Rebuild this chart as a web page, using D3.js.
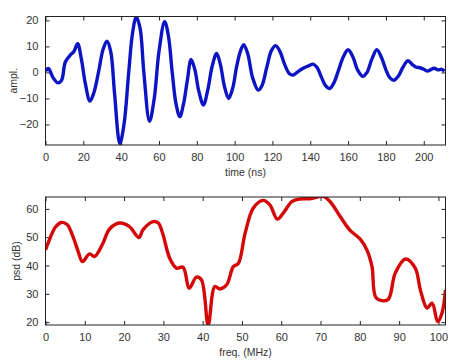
<!DOCTYPE html>
<html>
<head>
<meta charset="utf-8">
<script src="https://cdn.jsdelivr.net/npm/d3@7"></script>
<style>
  body { margin: 0; background: #fff; }
  svg { display: block; font-family: "Liberation Sans", Arial, sans-serif; }
  .tick text { fill: #333; font-size: 11px; }
  .lbl { fill: #333; font-size: 10.5px; }
</style>
</head>
<body>
<svg id="chart" width="459" height="362"></svg>
<script>
// time signal (ns, amplitude)
var timeNs = [0, 1.5, 4, 6.5, 8.5, 10.5, 13.5, 15, 17, 19, 21, 23.5, 25.5, 28, 30.5, 32.5, 34.5, 36.5, 39.3, 41.5,
    44, 46, 48, 50, 52, 55, 57.5, 60, 63, 65, 67, 69, 71, 73, 75, 77, 79, 81, 83.5, 86,
    88, 90.5, 92.5, 94.5, 96.8, 99, 101, 103, 104.8, 107, 109.5, 112.5, 114.5, 117, 119.5, 121.7, 124, 126.5, 129, 131,
    133, 136, 139, 141.5, 143.5, 146, 148, 150.2, 152.5, 155, 157.5, 160, 162.5, 165, 167.8, 170, 172.5, 175.2, 177.5, 180,
    182, 184.2, 186.5, 189, 191.6, 194, 196, 198, 200, 202, 203.5, 205.5, 207.5, 209.5, 211];
var ampl = [0.5, 1.5, -2, -4, -3, 4, 7, 8, 11, 5, -4, -11, -8, 0, 9, 12, 8, -8, -27.3, -20,
    0, 15, 21.3, 17, 0, -18.8, -10, 8, 19.5, 14, 0, -12, -17, -12, -3, 5, 1, -7, -12.5, -6,
    2, 7.3, 3, -5, -10, -6, 2, 8, 10.7, 7, -2, -6.8, -5, 2, 8.5, 10.3, 8, 3, -0.5, -1,
    0, 1.5, 2.5, 3.2, 2, -2, -5, -6.2, -4, 1, 6, 8.7, 6, 1, -1.5, 0, 5, 8.7, 6, 1,
    -2, -3, -1.5, 2, 4.5, 3, 2, 1.8, 1.2, 0.5, 1, 1.6, 1, 1.2, 0.5];
var timeTicks = [0, 20, 40, 60, 80, 100, 120, 140, 160, 180, 200];
var amplTicks = [-20, -10, 0, 10, 20];

// spectrum (MHz, dB)
var freqMHz = [0, 1, 2.5, 4, 5.5, 7, 8.3, 9.4, 11.2, 12.5, 14.5, 16.3, 18.9, 21.3, 23.8, 24.8, 27.4, 28.7, 29.8, 31.6,
    33.3, 35, 36.6, 38.4, 39.7, 41.4, 43.1, 44.4, 46.1, 47.8, 49.1, 50.8, 52.9, 55.4, 57.1, 59, 60.5, 62.7, 64.8, 67.3,
    70.7, 72.4, 75, 77.4, 80.1, 81.8, 83.1, 84.2, 87.1, 89, 91.6, 94.1, 95.4, 97.1, 98.4, 99.8, 100.9, 101.8];
var psd = [45.5, 49.1, 53.5, 55.2, 54.5, 50.2, 45, 41.4, 44.1, 43.2, 47.5, 52.9, 55, 53.8, 49.9, 52.6, 55.5, 55, 51.4, 42.6,
    39.1, 39.4, 32, 35.9, 34.9, 19, 32.6, 31.7, 33.2, 39.6, 40.8, 51.4, 60.3, 63, 61.4, 56.4, 58.5, 62.6, 63.5, 63.6,
    64.4, 62.6, 57.3, 52.6, 49.3, 45.5, 39.6, 28.5, 27.9, 37.3, 42.3, 39.1, 31.4, 25, 26.7, 20.2, 23.2, 31.4];
var freqTicks = [0, 10, 20, 30, 40, 50, 60, 70, 80, 90, 100];
var psdTicks = [20, 30, 40, 50, 60];

var svg = d3.select("#chart");

function panel(opt) {
    var g = svg.append("g");
    var x = d3.scaleLinear().domain(opt.xDomain).range([opt.left, opt.right]);
    var y = d3.scaleLinear().domain(opt.yDomain).range([opt.bottom, opt.top]);
    var clipId = opt.id + "-clip";

    g.append("clipPath").attr("id", clipId)
        .append("rect")
        .attr("x", opt.left).attr("y", opt.top)
        .attr("width", opt.right - opt.left).attr("height", opt.bottom - opt.top);

    // inward ticks on all four sides, labels on left/bottom only
    g.append("g").attr("transform", "translate(0," + opt.bottom + ")")
        .call(d3.axisBottom(x).tickValues(opt.xTicks).tickSizeInner(-4).tickSizeOuter(0).tickPadding(8));
    g.append("g").attr("transform", "translate(0," + opt.top + ")")
        .call(d3.axisTop(x).tickValues(opt.xTicks).tickSizeInner(-4).tickSizeOuter(0).tickFormat(""));
    g.append("g").attr("transform", "translate(" + opt.left + ",0)")
        .call(d3.axisLeft(y).tickValues(opt.yTicks).tickSizeInner(-4).tickSizeOuter(0).tickPadding(7));
    g.append("g").attr("transform", "translate(" + opt.right + ",0)")
        .call(d3.axisRight(y).tickValues(opt.yTicks).tickSizeInner(-4).tickSizeOuter(0).tickFormat(""));
    g.selectAll(".domain").remove();
    g.selectAll(".tick line").attr("stroke", "#222");

    g.append("path")
        .datum(d3.range(opt.xs.length))
        .attr("clip-path", "url(#" + clipId + ")")
        .attr("fill", "none")
        .attr("stroke", opt.color)
        .attr("stroke-width", 3.4)
        .attr("stroke-linejoin", "round")
        .attr("d", d3.line()
            .curve(d3.curveCatmullRom.alpha(0.5))
            .x(function (i) { return x(opt.xs[i]); })
            .y(function (i) { return y(opt.ys[i]); }));

    g.append("rect")
        .attr("x", opt.left).attr("y", opt.top)
        .attr("width", opt.right - opt.left).attr("height", opt.bottom - opt.top)
        .attr("fill", "none").attr("stroke", "#222").attr("stroke-width", 1);

    g.append("text").attr("class", "lbl")
        .attr("x", (opt.left + opt.right) / 2).attr("y", opt.bottom + 31)
        .attr("text-anchor", "middle")
        .text(opt.xLabel);
    g.append("text").attr("class", "lbl")
        .attr("transform", "translate(" + opt.yLabelX + "," + ((opt.top + opt.bottom) / 2) + ") rotate(-90)")
        .attr("text-anchor", "middle")
        .text(opt.yLabel);
}

panel({
    id: "time", left: 45.5, right: 445.5, top: 16.5, bottom: 145,
    xDomain: [0, 211.5], yDomain: [-27.9, 21.5],
    xTicks: timeTicks, yTicks: amplTicks,
    xs: timeNs, ys: ampl, color: "#0c14c4",
    xLabel: "time (ns)", yLabel: "ampl.", yLabelX: 17
});

panel({
    id: "freq", left: 45.5, right: 445.5, top: 197, bottom: 325,
    xDomain: [0, 101.8], yDomain: [19, 64.2],
    xTicks: freqTicks, yTicks: psdTicks,
    xs: freqMHz, ys: psd, color: "#d40808",
    xLabel: "freq. (MHz)", yLabel: "psd (dB)", yLabelX: 20
});
</script>
</body>
</html>
